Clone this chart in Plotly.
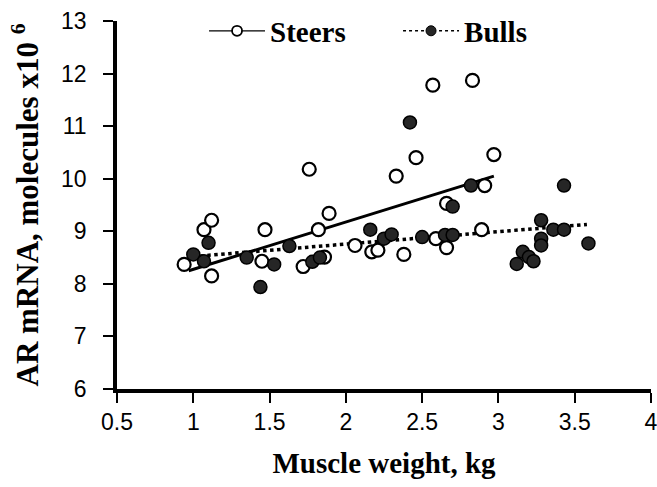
import plotly.graph_objects as go

# Steers (open circles)
steers_x = [0.94, 1.07, 1.12, 1.12, 1.47, 1.45, 1.72, 1.82, 1.89, 1.86, 2.06, 2.17, 2.21,
            2.38, 2.59, 2.66, 2.66, 2.89, 2.91, 1.76, 2.33, 2.46, 2.57, 2.83, 2.97]
steers_y = [8.37, 9.03, 9.21, 8.15, 9.03, 8.43, 8.33, 9.03, 9.34, 8.51, 8.73, 8.61, 8.64,
            8.56, 8.86, 8.69, 9.53, 9.03, 9.87, 10.18, 10.05, 10.40, 11.78, 11.87, 10.46]

# Bulls (filled circles)
bulls_x = [1.00, 1.07, 1.10, 1.35, 1.44, 1.53, 1.63, 1.78, 1.83, 2.16, 2.25, 2.30, 2.42,
           2.50, 2.65, 2.70, 2.70, 2.82, 3.12, 3.16, 3.20, 3.23, 3.28, 3.28, 3.28, 3.36,
           3.43, 3.43, 3.59]
bulls_y = [8.56, 8.43, 8.78, 8.50, 7.94, 8.37, 8.72, 8.42, 8.50, 9.03, 8.86, 8.94, 11.07,
           8.89, 8.93, 8.93, 9.47, 9.87, 8.38, 8.61, 8.51, 8.43, 9.21, 8.86, 8.73, 9.03,
           9.03, 9.87, 8.77]

# Regression lines: x extent and y at those ends
steers_fit_x = [0.97, 2.97]
steers_fit_y = [8.25, 10.05]
bulls_fit_x = [1.00, 3.58]
bulls_fit_y = [8.52, 9.13]

x_ticks = [0.5, 1, 1.5, 2, 2.5, 3, 3.5, 4]
x_tick_labels = ["0.5", "1", "1.5", "2", "2.5", "3", "3.5", "4"]
y_ticks = [6, 7, 8, 9, 10, 11, 12, 13]
y_tick_labels = ["6", "7", "8", "9", "10", "11", "12", "13"]

fig = go.Figure()

fig.add_trace(go.Scatter(x=steers_fit_x, y=steers_fit_y, mode="lines", showlegend=False,
                         line=dict(color="black", width=3)))
fig.add_trace(go.Scatter(x=bulls_fit_x, y=bulls_fit_y, mode="lines", showlegend=False,
                         line=dict(color="black", width=3.5, dash="dot")))

fig.add_trace(go.Scatter(x=steers_x, y=steers_y, mode="markers", showlegend=False,
                         marker=dict(size=13, color="white", line=dict(color="black", width=2.2))))
fig.add_trace(go.Scatter(x=bulls_x, y=bulls_y, mode="markers", showlegend=False,
                         marker=dict(size=13, color="#262626", line=dict(color="black", width=1.5))))

# legend entries
fig.add_trace(go.Scatter(x=[None], y=[None], mode="lines+markers", name="Steers",
                         line=dict(color="black", width=1.2),
                         marker=dict(size=10, color="white", line=dict(color="black", width=1.8))))
fig.add_trace(go.Scatter(x=[None], y=[None], mode="lines+markers", name="Bulls",
                         line=dict(color="black", width=1.5, dash="dot"),
                         marker=dict(size=10, color="#262626", line=dict(color="black", width=1))))

axis_common = dict(
    showgrid=False, zeroline=False, showline=True, linecolor="black", linewidth=3.5,
    ticks="outside", ticklen=10, tickwidth=2, tickcolor="black",
    ticklabeloverflow="allow", automargin=False,
    tickfont=dict(family="Liberation Sans, Arial", size=23, color="black"),
)

fig.update_layout(
    width=657, height=487,
    margin=dict(l=117, r=6, t=21, b=98, autoexpand=False),
    paper_bgcolor="white", plot_bgcolor="white",
    xaxis=dict(range=[0.4999, 4.0001], tickvals=x_ticks, ticktext=x_tick_labels,
               ticklabelstandoff=0,
               title=dict(text="<b>Muscle weight, kg</b>", standoff=19,
                          font=dict(family="Liberation Serif, Times New Roman", size=29, color="black")),
               **axis_common),
    yaxis=dict(range=[6, 13], tickvals=y_ticks, ticktext=y_tick_labels,
               ticklabelstandoff=12,
               title=dict(text="<b>AR mRNA, molecules x10 <sup>6</sup></b>", standoff=14,
                          font=dict(family="Liberation Serif, Times New Roman", size=31, color="black")),
               **axis_common),
    legend=dict(orientation="h", x=0.163, y=0.973, xanchor="left", yanchor="middle",
                bgcolor="rgba(0,0,0,0)", itemwidth=56,
                entrywidth=123, entrywidthmode="pixels",
                font=dict(family="Liberation Serif, Times New Roman", size=29, color="black",
                          weight="bold")),
)

fig.write_html("out.html")
